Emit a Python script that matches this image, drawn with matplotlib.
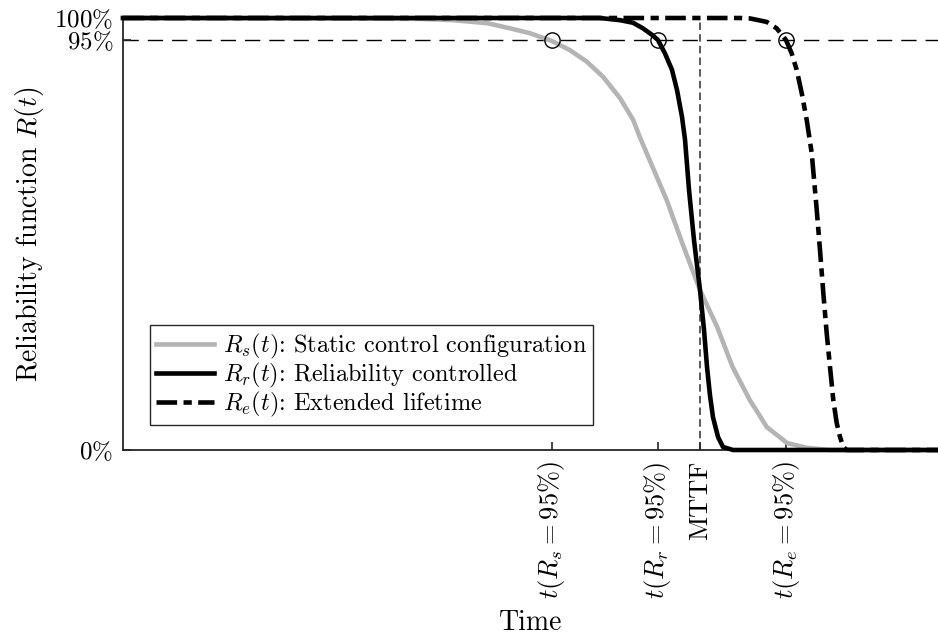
import matplotlib
matplotlib.use("Agg")
import matplotlib.pyplot as plt

plt.rcParams['mathtext.fontset'] = 'cm'
plt.rcParams['font.family'] = 'serif'
plt.rcParams['font.serif'] = ['cmr10', 'DejaVu Serif']
plt.rcParams['axes.unicode_minus'] = False
plt.rcParams['axes.formatter.use_mathtext'] = True

# --- data (time in arbitrary units, reliability as fraction) ---
t_static = [0, 21.7, 36.4, 40.5, 44.7, 47.5, 49.9, 52.6, 54.8, 56.9, 58.9, 61.0, 62.6,
            63.4, 66.7, 68.7, 70.8, 72.9, 74.8, 76.9, 79.0, 81.5, 83.9, 86.7, 100]
R_static = [1.0, 0.999, 0.998, 0.995, 0.988, 0.976, 0.965, 0.947, 0.926, 0.899, 0.864, 0.814, 0.764,
            0.725, 0.579, 0.475, 0.370, 0.285, 0.192, 0.116, 0.053, 0.016, 0.005, 0.0, 0.0]

t_rel = [0, 58.5, 60.98, 62.58, 63.80, 64.91, 65.64, 66.50, 67.36, 67.98, 68.59, 68.96,
         69.45, 70.06, 70.80, 71.29, 71.66, 72.02, 72.39, 73.01, 73.62, 74.85, 100]
R_rel = [1.0, 1.0, 0.995, 0.989, 0.976, 0.961, 0.949, 0.918, 0.880, 0.833, 0.771, 0.718,
         0.602, 0.486, 0.370, 0.278, 0.192, 0.127, 0.076, 0.030, 0.007, 0.0, 0.0]

t_ext = [0, 75.7, 76.93, 78.98, 80.21, 81.35, 82.05, 82.66, 83.28, 83.89, 84.50, 85.12, 85.52,
         85.93, 86.34, 86.75, 87.15, 87.57, 87.98, 88.38, 88.80, 100]
R_ext = [1.0, 1.0, 0.999, 0.991, 0.976, 0.949, 0.918, 0.880, 0.826, 0.764, 0.688, 0.556, 0.463,
         0.363, 0.271, 0.192, 0.116, 0.0625, 0.030, 0.007, 0.0, 0.0]

t_marks = [52.6, 65.64, 81.35]
R_level = 0.95
t_mttf = 70.8

xtick_pos = [52.6, 65.64, 70.8, 81.35]
xtick_labels = [r'$t(R_s=95\%)$', r'$t(R_r=95\%)$', 'MTTF', r'$t(R_e=95\%)$']
ytick_pos = [0, 0.95, 1.0]
ytick_labels = [r'$0\%$', r'$95\%$', r'$100\%$']

legend_labels = [r'$R_s(t)$: Static control configuration',
                 r'$R_r(t)$: Reliability controlled',
                 r'$R_e(t)$: Extended lifetime']

fig = plt.figure(figsize=(9.38, 6.40), dpi=100)
ax = fig.add_axes([123/938, 1-450/640, 1-123/938, (450-18)/640])

ax.axhline(R_level, color='black', lw=1.0, ls=(0, (11, 6.5)), zorder=1)
ax.plot([t_mttf, t_mttf], [0, 1], color='#404040', lw=1.2, ls=(0, (4.5, 2.5)), zorder=1)

lw = 3.3
l1, = ax.plot(t_static, R_static, color='#b4b4b4', lw=lw, clip_on=False, zorder=2)
l2, = ax.plot(t_rel, R_rel, color='black', lw=lw, clip_on=False, zorder=3)
l3, = ax.plot(t_ext, R_ext, color='black', lw=lw, ls=(0, (4.5, 1.4, 1.8, 1.4)),
              clip_on=False, zorder=4)

ax.plot(t_marks, [R_level]*len(t_marks), 'o', ms=11, mfc='none', mec='black', mew=1.0,
        clip_on=False, zorder=5)

ax.set_xlim(0, 100)
ax.set_ylim(0, 1)
ax.spines['top'].set_visible(False)
ax.spines['right'].set_visible(False)
for s in ['left', 'bottom']:
    ax.spines[s].set_linewidth(1.3)
    ax.spines[s].set_color('#262626')

ax.set_xticks(xtick_pos)
ax.set_xticklabels(xtick_labels, rotation=90, fontsize=19)
ax.set_yticks(ytick_pos)
ax.set_yticklabels(ytick_labels, fontsize=18)
ax.tick_params(direction='in', length=6, width=1.2, color='#262626')
ax.tick_params(axis='x', pad=8)
ax.tick_params(axis='y', pad=7)

ax.set_xlabel('Time', fontsize=20, labelpad=8)
ax.set_ylabel(r'Reliability function $R(t)$', fontsize=20, labelpad=6)

leg = ax.legend([l1, l2, l3], legend_labels, loc='lower left', bbox_to_anchor=(0.033, 0.058),
                borderaxespad=0, fontsize=17.5, frameon=True, fancybox=False,
                edgecolor='#262626', framealpha=1, handlelength=2.4, handletextpad=0.36,
                labelspacing=0.0, borderpad=0.25)
leg.get_frame().set_linewidth(1.0)

fig.savefig('out.png', dpi=100)
